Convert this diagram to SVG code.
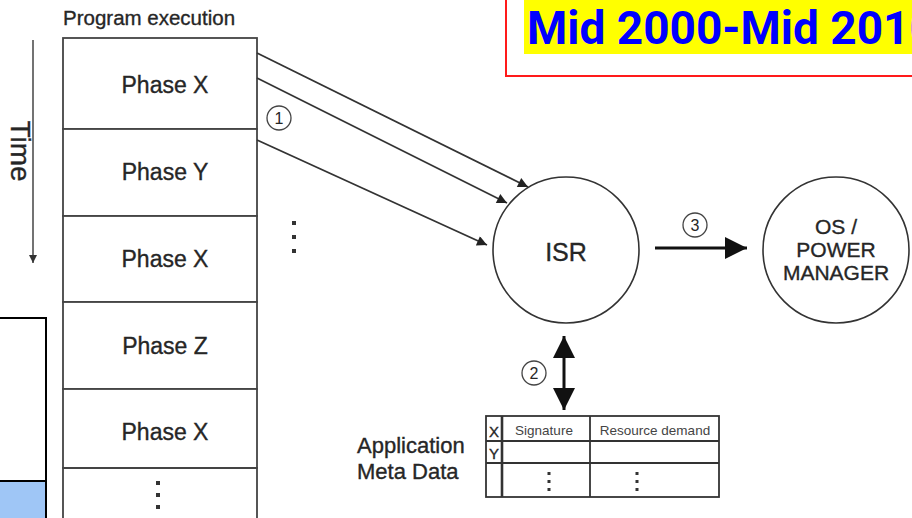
<svg xmlns="http://www.w3.org/2000/svg" width="912" height="518" viewBox="0 0 912 518">
  <style>
    .lbl { font-family: "Liberation Sans", Arial, sans-serif; fill: #262626; stroke: #262626; stroke-width: 0.35; }
    .mid { text-anchor: middle; }
    .edge { stroke: #333; stroke-width: 1.8; fill: none; }
    .cell { fill: #fff; stroke: #444; stroke-width: 1.8; }
    .node { fill: #fff; stroke: #333; stroke-width: 1.6; }
    .num { fill: #fff; stroke: #444; stroke-width: 1.3; }
    .dot { fill: #333; }
  </style>
  <defs>
    <marker id="tri" viewBox="0 0 10 10" refX="10" refY="5" markerWidth="14" markerHeight="10" markerUnits="userSpaceOnUse" orient="auto">
      <path d="M0,0 L10,5 L0,10 Z" fill="#222"/>
    </marker>
    <marker id="triBig" viewBox="0 0 10 10" refX="10" refY="5" markerWidth="22" markerHeight="22" markerUnits="userSpaceOnUse" orient="auto-start-reverse">
      <path d="M0,0 L10,5 L0,10 Z" fill="#111"/>
    </marker>
    <marker id="triSmall" viewBox="0 0 10 10" refX="10" refY="5" markerWidth="10" markerHeight="8" markerUnits="userSpaceOnUse" orient="auto">
      <path d="M0,0 L10,5 L0,10 Z" fill="#333"/>
    </marker>
  </defs>

  <rect width="912" height="518" fill="#fff"/>

  <!-- era banner -->
  <g id="banner">
    <rect x="506" y="-4" width="412" height="80" fill="#fff" stroke="#ff1a1a" stroke-width="2"/>
    <rect x="524" y="0" width="392" height="54" fill="#ffff00"/>
    <text x="527" y="44" font-family="Roboto, 'Liberation Sans', sans-serif" font-weight="bold" font-size="46" fill="#0000ff">Mid 2000-Mid 2010</text>
  </g>

  <!-- side panel -->
  <g id="side-panel">
    <rect x="-3" y="318" width="49" height="205" fill="#fff" stroke="#000" stroke-width="2"/>
    <rect x="0" y="482" width="45" height="40" fill="#9fc6f6"/>
    <line x1="-3" y1="481" x2="46" y2="481" stroke="#000" stroke-width="2"/>
  </g>

  <!-- time axis -->
  <g id="time-axis">
    <line x1="33" y1="40" x2="33" y2="263" stroke="#444" stroke-width="1.5" marker-end="url(#triSmall)"/>
    <text class="lbl mid" font-size="28" fill="#2c3440" transform="translate(11,151) rotate(90)">Time</text>
  </g>

  <!-- program execution column -->
  <g id="program-execution">
    <text class="lbl" x="63" y="25" font-size="20.5">Program execution</text>
    <g id="phase-1">
      <rect class="cell" x="63" y="38" width="194" height="91"/>
      <text class="lbl mid" x="165" y="93" font-size="23">Phase X</text>
    </g>
    <g id="phase-2">
      <rect class="cell" x="63" y="129" width="194" height="87"/>
      <text class="lbl mid" x="165" y="180" font-size="23">Phase Y</text>
    </g>
    <g id="phase-3">
      <rect class="cell" x="63" y="216" width="194" height="86"/>
      <text class="lbl mid" x="165" y="267" font-size="23">Phase X</text>
    </g>
    <g id="phase-4">
      <rect class="cell" x="63" y="302" width="194" height="87"/>
      <text class="lbl mid" x="165" y="354" font-size="23">Phase Z</text>
    </g>
    <g id="phase-5">
      <rect class="cell" x="63" y="389" width="194" height="79"/>
      <text class="lbl mid" x="165" y="440" font-size="23">Phase X</text>
    </g>
    <g id="phase-more">
      <path class="cell" d="M63,522 V468 H257 V522"/>
      <rect class="dot" x="156" y="481" width="4" height="4"/>
      <rect class="dot" x="156" y="493" width="4" height="4"/>
      <rect class="dot" x="156" y="505" width="4" height="4"/>
    </g>
  </g>

  <!-- ellipsis between phases and ISR -->
  <g id="ellipsis">
    <rect class="dot" x="292" y="221" width="4" height="4"/>
    <rect class="dot" x="292" y="235" width="4" height="4"/>
    <rect class="dot" x="292" y="249" width="4" height="4"/>
  </g>

  <!-- ISR node -->
  <g id="isr">
    <circle class="node" cx="566" cy="250" r="73"/>
    <text class="lbl mid" x="566" y="261" font-size="25">ISR</text>
  </g>

  <!-- OS / power manager node -->
  <g id="os-power-manager">
    <circle class="node" cx="836" cy="250" r="73"/>
    <text class="lbl mid" x="836" y="234" font-size="21">OS /</text>
    <text class="lbl mid" x="836" y="257" font-size="21">POWER</text>
    <text class="lbl mid" x="836" y="280" font-size="21">MANAGER</text>
  </g>

  <!-- application meta data table -->
  <g id="meta-data">
    <text class="lbl" x="357" y="453" font-size="22">Application</text>
    <text class="lbl" x="357" y="479" font-size="22">Meta Data</text>
    <rect x="486" y="416" width="233" height="81" fill="#fff" stroke="#333" stroke-width="1.8"/>
    <line x1="502" y1="416" x2="502" y2="497" stroke="#333" stroke-width="2.6"/>
    <line x1="590" y1="416" x2="590" y2="497" stroke="#333" stroke-width="1.8"/>
    <line x1="486" y1="441" x2="719" y2="441" stroke="#333" stroke-width="1.8"/>
    <line x1="486" y1="463" x2="719" y2="463" stroke="#333" stroke-width="1.8"/>
    <text class="lbl mid" x="494" y="437" font-size="15">X</text>
    <text class="lbl mid" x="494" y="459" font-size="15">Y</text>
    <text class="lbl mid" x="544" y="435" font-size="13.5" style="fill:#444;stroke:none">Signature</text>
    <text class="lbl mid" x="655" y="435" font-size="13.5" style="fill:#444;stroke:none">Resource demand</text>
    <rect class="dot" x="547.5" y="472" width="3" height="3"/>
    <rect class="dot" x="547.5" y="480" width="3" height="3"/>
    <rect class="dot" x="547.5" y="488" width="3" height="3"/>
    <rect class="dot" x="635.5" y="472" width="3" height="3"/>
    <rect class="dot" x="635.5" y="480" width="3" height="3"/>
    <rect class="dot" x="635.5" y="488" width="3" height="3"/>
  </g>

  <!-- connectors -->
  <g id="connectors">
    <line class="edge" x1="257" y1="53" x2="528" y2="187" marker-end="url(#tri)"/>
    <line class="edge" x1="257" y1="78" x2="507" y2="203" marker-end="url(#tri)"/>
    <line class="edge" x1="257" y1="140" x2="487" y2="245" marker-end="url(#tri)"/>
    <line x1="655" y1="248" x2="747" y2="248" stroke="#111" stroke-width="3" marker-end="url(#triBig)"/>
    <line x1="564" y1="336" x2="564" y2="410" stroke="#111" stroke-width="3" marker-start="url(#triBig)" marker-end="url(#triBig)"/>
  </g>

  <!-- step numbers -->
  <g id="step-1">
    <circle class="num" cx="279" cy="118" r="12"/>
    <text class="lbl mid" x="279" y="124" font-size="16" style="stroke:none">1</text>
  </g>
  <g id="step-2">
    <circle class="num" cx="534" cy="373" r="12"/>
    <text class="lbl mid" x="534" y="379" font-size="16" style="stroke:none">2</text>
  </g>
  <g id="step-3">
    <circle class="num" cx="695" cy="225" r="12"/>
    <text class="lbl mid" x="695" y="231" font-size="16" style="stroke:none">3</text>
  </g>
</svg>
